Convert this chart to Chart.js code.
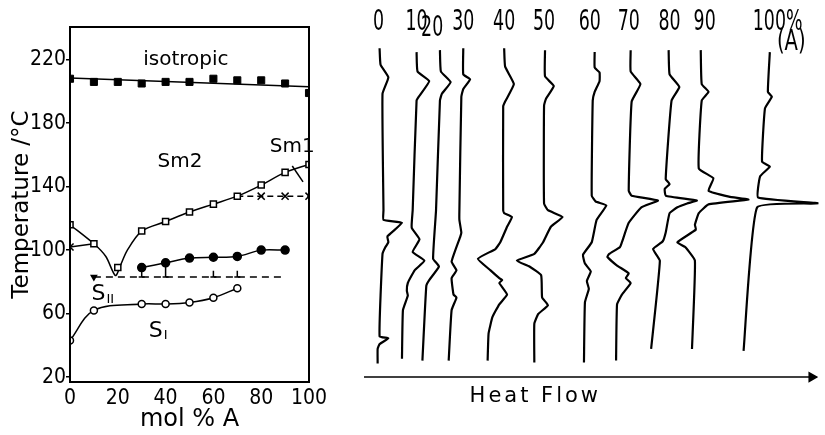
<!DOCTYPE html>
<html>
<head>
<meta charset="utf-8">
<script src="https://cdn.jsdelivr.net/npm/chart.js@4.4.0/dist/chart.umd.min.js"></script>
<style>
html, body { margin: 0; padding: 0; background: #fff; }
#wrap { position: relative; width: 825px; height: 435px; }
#phase { position: absolute; left: 0; top: 0; }
#dsc { position: absolute; left: 340px; top: 0; }
</style>
</head>
<body>
<div id="wrap">
	<canvas id="phase" width="340" height="435"></canvas>
	<canvas id="dsc" width="485" height="435"></canvas>
</div>
<script>
// ---- phase diagram (left) ----------------------------------------
const yTicks = [20, 60, 100, 140, 180, 220];

const isoX = [0, 10, 20, 30, 40, 50, 60, 70, 80, 90, 100];
const isoT = [208, 206, 206, 205, 206, 206, 208, 207, 207, 205, 199];
const isoFitX = [0, 100];
const isoFitT = [208.5, 203];

const sqX = [0, 10, 20, 30, 40, 50, 60, 70, 80, 90, 100];
const sqT = [116, 104, 89, 112, 118, 124, 129, 134, 141, 149, 154];
const sqLineX = [0, 10, 15, 19, 21, 24, 30, 40, 50, 60, 70, 80, 90, 100];
const sqLineT = [116, 104, 96, 84, 90, 100, 112, 118, 124, 129, 134, 141, 149, 154];

const crossX = [70, 80, 90, 100];
const crossT = [134, 134, 134, 134];
const leftX = [0, 10];
const leftT = [102, 104];

const dotX = [30, 40, 50, 60, 70, 80, 90];
const dotT = [89, 92, 95, 95.5, 96, 100, 100];
const barX = [30, 40, 60, 70];
const barTop = [88, 90, 87, 87];
const barLow = 83;

const dashX = [10, 90];
const dashT = [83, 83];

const ringX = [0, 10, 30, 40, 50, 60, 70];
const ringT = [43, 62, 66, 66, 67, 70, 76];

const sm1PointerX = [93, 97.5];
const sm1PointerT = [153, 143];

const regionText = ["isotropic", "Sm2", "Sm1"];
const regionX = [48.5, 46, 93];
const regionT = [220, 155.5, 165];

const pts = (xs, ys) => xs.map((v, i) => ({x: v, y: ys[i]}));
const SANS = '"DejaVu Sans", sans-serif';
const COND = '"DejaVu Sans Condensed", "DejaVu Sans", sans-serif';

const phasePlugin = {
	id: "phaseExtras",
	afterDatasetsDraw(chart)
	{
		const {ctx, chartArea: a, scales: {x, y}} = chart;
		ctx.save();
		ctx.strokeStyle = "#000";
		ctx.fillStyle = "#000";
		ctx.lineWidth = 2;
		ctx.strokeRect(a.left, a.top, a.right - a.left, a.bottom - a.top);

		// small bars from the filled circles down to the dashed line
		ctx.lineWidth = 1.5;
		barX.forEach((v, i) => {
			const px = x.getPixelForValue(v);
			const top = y.getPixelForValue(barTop[i]);
			const low = y.getPixelForValue(barLow);
			ctx.beginPath();
			ctx.moveTo(px, top); ctx.lineTo(px, low);
			ctx.moveTo(px - 3, low); ctx.lineTo(px + 3, low);
			ctx.stroke();
		});

		ctx.textAlign = "center";
		ctx.textBaseline = "middle";
		ctx.font = "20px " + SANS;
		regionText.forEach((t, i) => ctx.fillText(t, x.getPixelForValue(regionX[i]), y.getPixelForValue(regionT[i])));

		// S_II and S_I
		ctx.textAlign = "left";
		ctx.font = "22px " + SANS;
		let px = x.getPixelForValue(9), py = y.getPixelForValue(72);
		ctx.fillText("S", px, py);
		ctx.font = "13px " + SANS;
		ctx.fillText("II", px + 15, py + 5);
		ctx.font = "22px " + SANS;
		px = x.getPixelForValue(33); py = y.getPixelForValue(49);
		ctx.fillText("S", px, py);
		ctx.font = "13px " + SANS;
		ctx.fillText("I", px + 15, py + 5);
		ctx.restore();
	}
};

new Chart(document.getElementById("phase"),
{
	type: "scatter",
	data:
	{
		datasets: [
			{ data: pts(isoX, isoT), pointStyle: "rect", pointRadius: 5, backgroundColor: "#000", borderColor: "#000", order: 1 },
			{ data: pts(isoFitX, isoFitT), showLine: true, pointRadius: 0, borderColor: "#000", borderWidth: 1.5, order: 2 },
			{ data: pts(sqLineX, sqLineT), showLine: true, tension: 0.3, pointRadius: 0, borderColor: "#000", borderWidth: 1.5, order: 2 },
			{ data: pts(sqX, sqT), pointStyle: "rect", pointRadius: 4.3, backgroundColor: "#fff", borderColor: "#000", borderWidth: 1.5, order: 1 },
			{ data: pts(crossX, crossT), showLine: true, borderDash: [6, 4], pointStyle: "crossRot", pointRadius: [0, 5, 5, 5], borderColor: "#000", borderWidth: 1.5, order: 2 },
			{ data: pts(leftX, leftT), showLine: true, pointStyle: "crossRot", pointRadius: [5, 0], borderColor: "#000", borderWidth: 1.5, order: 2 },
			{ data: pts(dotX, dotT), showLine: true, tension: 0.3, pointStyle: "circle", pointRadius: 4, backgroundColor: "#000", borderColor: "#000", borderWidth: 1.5, order: 1 },
			{ data: pts(dashX, dashT), showLine: true, borderDash: [7, 5], pointStyle: "triangle", pointRotation: 180, pointRadius: [3, 0], backgroundColor: "#000", borderColor: "#000", borderWidth: 1.5, order: 2 },
			{ data: pts(ringX, ringT), showLine: true, tension: 0.35, pointStyle: "circle", pointRadius: 3.5, backgroundColor: "#fff", borderColor: "#000", borderWidth: 1.5, order: 1 },
			{ data: pts(sm1PointerX, sm1PointerT), showLine: true, pointRadius: 0, borderColor: "#000", borderWidth: 1.5, order: 2 }
		]
	},
	options:
	{
		responsive: false,
		animation: false,
		layout: { padding: { left: 0, right: 31, top: 27, bottom: 0 } },
		plugins: { legend: { display: false }, tooltip: { enabled: false } },
		scales:
		{
			x:
			{
				type: "linear", min: 0, max: 100,
				ticks: { stepSize: 20, color: "#000", padding: 4, font: { family: COND, size: 21 } },
				grid: { display: false, drawTicks: false, tickLength: 0 },
				border: { display: false },
				title: { display: true, text: "mol % A", color: "#000", font: { family: SANS, size: 24 }, padding: { top: 0, bottom: 1 } },
				afterFit: (s) => { s.height = 53; }
			},
			y:
			{
				type: "linear", min: 16.9, max: 240.6,
				afterBuildTicks: (s) => { s.ticks = yTicks.map(v => ({value: v})); },
				ticks: { color: "#000", padding: 0, font: { family: COND, size: 21 } },
				grid: { drawOnChartArea: false, drawTicks: true, tickLength: 4, color: "#000", lineWidth: 1.5 },
				border: { display: false },
				title: { display: true, text: "Temperature /°C", color: "#000", font: { family: SANS, size: 23 }, padding: { top: 8, bottom: 0 } },
				afterFit: (s) => { s.width = 70; }
			}
		}
	},
	plugins: [phasePlugin]
});

// ---- DSC traces (right), x = heat flow offset, y = run position ----
const trace0 = [[374,43],[375,60],[383,73],[377,90],[378,210],[378,220],[397,223],[382,237],[383,243],[380,248],[377,255],[374,340],[383,342],[374,348],[372,353],[372,368]];
const trace10 = [[412,47],[413,67],[425,77],[415,92],[412,97],[408,210],[407,228],[415,240],[408,253],[420,262],[410,272],[403,285],[402,293],[403,298],[398,313],[397,363]];
const trace20 = [[436,45],[437,67],[447,78],[438,90],[436,97],[432,210],[429,260],[435,268],[425,282],[422,288],[418,365]];
const trace30 = [[460,43],[460,70],[467,75],[460,85],[458,93],[456,210],[456,220],[458,233],[457,237],[448,263],[453,272],[448,280],[450,297],[453,300],[448,313],[445,365]];
const trace40 = [[502,43],[503,62],[512,80],[503,98],[501,103],[501,210],[502,213],[510,217],[505,227],[498,243],[493,250],[475,260],[488,272],[497,280],[500,282],[497,285],[505,297],[497,307],[490,320],[486,337],[485,365]];
const trace50 = [[544,45],[544,72],[553,82],[545,95],[543,102],[543,203],[547,210],[562,217],[550,227],[542,243],[533,255],[515,262],[528,268],[540,277],[541,300],[547,308],[537,317],[533,327],[533,367]];
const trace60 = [[595,47],[595,63],[600,68],[600,77],[595,88],[593,97],[592,195],[596,201],[607,205],[597,220],[592,243],[583,256],[585,265],[591,273],[587,283],[589,291],[585,305],[584,367]];
const trace70 = [[632,45],[632,67],[642,80],[633,98],[630,190],[633,195],[660,200],[643,207],[630,223],[623,243],[621,248],[610,255],[608,258],[618,267],[630,275],[627,280],[632,285],[623,297],[618,307],[617,365]];
const trace80 = [[671,45],[672,70],[682,83],[674,97],[668,178],[672,183],[667,188],[668,195],[700,200],[690,203],[680,207],[672,213],[668,233],[665,242],[655,250],[662,262],[653,353]];
const trace90 = [[704,45],[705,80],[712,88],[705,97],[702,167],[717,177],[712,190],[733,196],[753,199],[712,204],[702,213],[698,225],[699,230],[680,243],[688,248],[698,262],[695,353]];
const trace100 = [[775,47],[773,88],[777,93],[770,105],[767,160],[775,165],[765,175],[763,197],[826,203],[762,207],[748,355]];
const traces = [trace0, trace10, trace20, trace30, trace40, trace50, trace60, trace70, trace80, trace90, trace100];

const traceLabels = ["0", "10", "20", "30", "40", "50", "60", "70", "80", "90", "100%"];
const traceLabelX = [373, 412, 428, 460, 502, 543, 590, 630, 672, 708, 783];
const traceLabelY = [16, 16, 23, 16, 16, 16, 16, 16, 16, 16, 16];

const heatX = [358, 818];
const heatY = [382, 382];

const dscPlugin = {
	id: "dscText",
	afterDatasetsDraw(chart)
	{
		const {ctx, scales: {x, y}} = chart;
		ctx.save();
		ctx.fillStyle = "#000";
		ctx.textAlign = "center";
		ctx.textBaseline = "middle";
		const put = (t, vx, vy, size, sx) => {
			ctx.save();
			ctx.translate(x.getPixelForValue(vx), y.getPixelForValue(vy));
			ctx.scale(sx, 1);
			ctx.font = size + "px " + SANS;
			ctx.fillText(t, 0, 0);
			ctx.restore();
		};
		traceLabels.forEach((t, i) => put(t, traceLabelX[i], traceLabelY[i], 29, 0.6));
		put("(A)", 797, 37, 28, 0.7);
		ctx.font = "21px " + SANS;
		ctx.letterSpacing = "3px";
		ctx.fillText("Heat Flow", x.getPixelForValue(534), y.getPixelForValue(402));
		ctx.restore();
	}
};

new Chart(document.getElementById("dsc"),
{
	type: "line",
	data:
	{
		datasets: traces.map(t => ({
			data: t.map(p => ({x: p[0], y: p[1]})),
			borderColor: "#000", borderWidth: 2.2, pointRadius: 0, tension: 0.12, fill: false
		})).concat([{
			data: pts(heatX, heatY), borderColor: "#000", borderWidth: 1.5, tension: 0,
			pointStyle: "triangle", pointRotation: 90, pointRadius: [0, 5], backgroundColor: "#000"
		}])
	},
	options:
	{
		responsive: false,
		animation: false,
		layout: { padding: 0 },
		plugins: { legend: { display: false }, tooltip: { enabled: false } },
		scales:
		{
			x: { type: "linear", min: 340, max: 825, display: false },
			y: { type: "linear", min: 0, max: 435, reverse: true, display: false }
		}
	},
	plugins: [dscPlugin]
});
</script>
</body>
</html>
